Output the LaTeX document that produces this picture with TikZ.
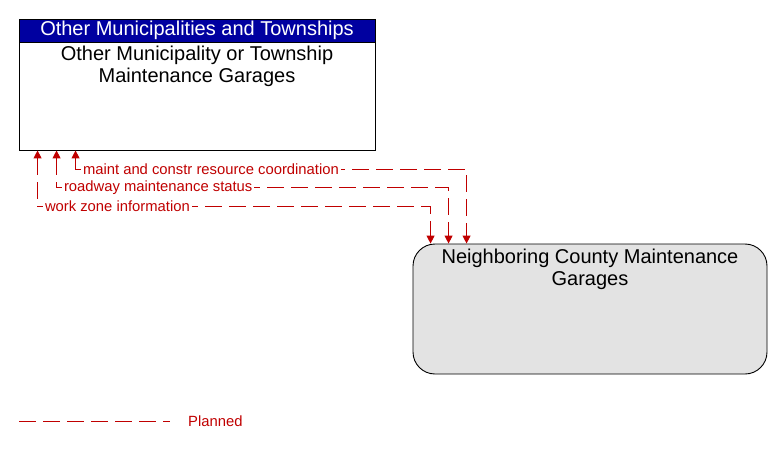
\documentclass[tikz,border=0pt]{standalone}
\usepackage{fontspec}
\setmainfont{Liberation Sans}
\usetikzlibrary{positioning}
\usetikzlibrary{arrows.meta}

\definecolor{hdrblue}{RGB}{0,0,160}
\definecolor{flowred}{RGB}{192,0,0}
\definecolor{boxgray}{RGB}{227,227,227}

\tikzset{
    flow/.style={draw=flowred, line width=0.9pt, dash pattern=on 17pt off 7pt, {Triangle[length=8pt,width=8pt]}-{Triangle[length=8pt,width=8pt]}},
    flowlabel/.style={anchor=west, fill=white, inner sep=2pt, text=flowred, font=\fontsize{14.8}{16}\selectfont},
    boxtext/.style={align=center, font=\fontsize{20}{22}\selectfont}
}

\begin{document}
\begin{tikzpicture}[x=1pt, y=1pt]
            \useasboundingbox (0,0) rectangle (783,-449);

            % top box
            \node (omt) at (197,-84.5) [draw, line width=0.9pt, rectangle, minimum width=356pt, minimum height=131pt, inner sep=0pt]{};
            \node (omth) [below=0pt of omt.north, draw, line width=0.9pt, fill=hdrblue, text=white, minimum width=356pt, minimum height=23pt, inner sep=0pt, font=\fontsize{20}{22}\selectfont]{\raisebox{-1pt}{Other Municipalities and Townships}};
            \node (omtt) [below=3pt of omth.south, boxtext, inner sep=0pt]{Other Municipality or Township\\Maintenance Garages};

            % bottom box
            \node (ncm) at (590,-309) [draw, line width=0.9pt, rectangle, rounded corners=22pt, fill=boxgray, minimum width=354pt, minimum height=130pt, inner sep=0pt]{};
            \node (ncmt) [below=5pt of ncm.north, boxtext, inner sep=0pt]{Neighboring County Maintenance\\Garages};

            % flows
            \draw[flow] ([xshift=19pt]omt.south west) |- node[flowlabel, pos=0.5, xshift=5pt]{work zone information} ([xshift=18pt, yshift=37pt]ncm.north west) -- ([xshift=18pt]ncm.north west);
            \draw[flow] ([xshift=38pt]omt.south west) |- node[flowlabel, pos=0.5, xshift=5pt]{roadway maintenance status} ([xshift=36pt, yshift=56pt]ncm.north west) -- ([xshift=36pt]ncm.north west);
            \draw[flow] ([xshift=57pt]omt.south west) |- node[flowlabel, pos=0.5, xshift=5pt]{maint and constr resource coordination} ([xshift=54pt, yshift=74pt]ncm.north west) -- ([xshift=54pt]ncm.north west);

            % legend
            \coordinate (lgs) at (19,-421);
            \coordinate (lge) at (170,-421);
            \draw[draw=flowred, line width=0.9pt, dash pattern=on 17pt off 7pt] (lgs) -- (lge);
            \node (lgt) [right=18pt of lge, text=flowred, inner sep=0pt, font=\fontsize{14.8}{16}\selectfont]{Planned};

        \end{tikzpicture}
\end{document}
